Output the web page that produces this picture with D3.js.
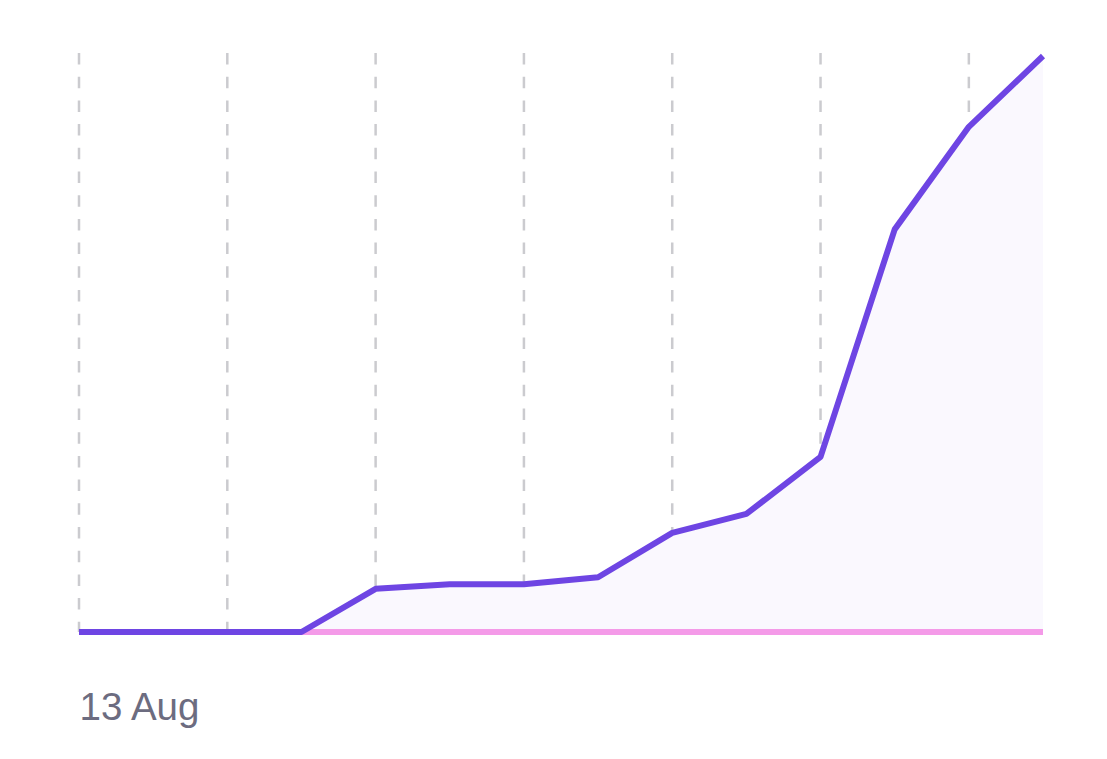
<!DOCTYPE html>
<html>
<head>
<meta charset="utf-8">
<script src="https://cdn.jsdelivr.net/npm/d3@7"></script>
<style>
  html, body { margin: 0; padding: 0; background: #ffffff; }
  svg { display: block; }
</style>
</head>
<body>
<svg id="chart" width="1107" height="759"></svg>
<script>
const categories = ["13 Aug","14 Aug","15 Aug","16 Aug","17 Aug","18 Aug","19 Aug","20 Aug","21 Aug","22 Aug","23 Aug","24 Aug","25 Aug","26 Aug"];
const primaryValues = [0, 0, 0, 0, 7.5, 8.3, 8.3, 9.5, 17.2, 20.5, 30.4, 69.9, 87.7, 100];
const secondaryValues = [0, 0, 0, 0, 0, 0, 0, 0, 0, 0, 0, 0, 0, 0];
const tickLabels = ["13 Aug"];
const gridCategories = categories.filter((d, i) => i % 2 === 0);

const svg = d3.select("#chart");
const margin = { left: 79, right: 64, top: 56, bottom: 127 };
const W = 1107, H = 759;

const x = d3.scalePoint().domain(categories).range([margin.left, W - margin.right]);
const y = d3.scaleLinear().domain([0, 100]).range([H - margin.bottom, margin.top]);

// gridlines
svg.append("g").selectAll("line").data(gridCategories).join("line")
  .attr("x1", d => x(d)).attr("x2", d => x(d))
  .attr("y1", y(100) - 3).attr("y2", y(0))
  .attr("stroke", "#cbcbcf").attr("stroke-width", 2.5)
  .attr("stroke-dasharray", "11.5,12.2");

// area fill
const area = d3.area()
  .x((d, i) => x(categories[i]))
  .y0(y(0)).y1(d => y(d));
svg.append("path").datum(primaryValues)
  .attr("d", area).attr("fill", "#faf8fe");

// secondary line
const line = d3.line().x((d, i) => x(categories[i])).y(d => y(d));
svg.append("path").datum(secondaryValues)
  .attr("d", line).attr("fill", "none")
  .attr("stroke", "#f49ae8").attr("stroke-width", 6);

// primary line
svg.append("path").datum(primaryValues)
  .attr("d", line).attr("fill", "none")
  .attr("stroke", "#6e45e3").attr("stroke-width", 6)
  .attr("stroke-linejoin", "round");

// x-axis labels
const axis = d3.axisBottom(x).tickValues(tickLabels).tickSize(0).tickPadding(0);
const gAxis = svg.append("g").attr("transform", `translate(0, ${y(0)})`).call(axis);
gAxis.select(".domain").remove();
gAxis.selectAll("text")
  .attr("text-anchor", "start")
  .attr("dy", null)
  .attr("y", 88)
  .attr("fill", "#6c6c80")
  .style("font-family", "'Liberation Sans', Arial, Helvetica, sans-serif")
  .style("font-size", "38.5px");
</script>
</body>
</html>
